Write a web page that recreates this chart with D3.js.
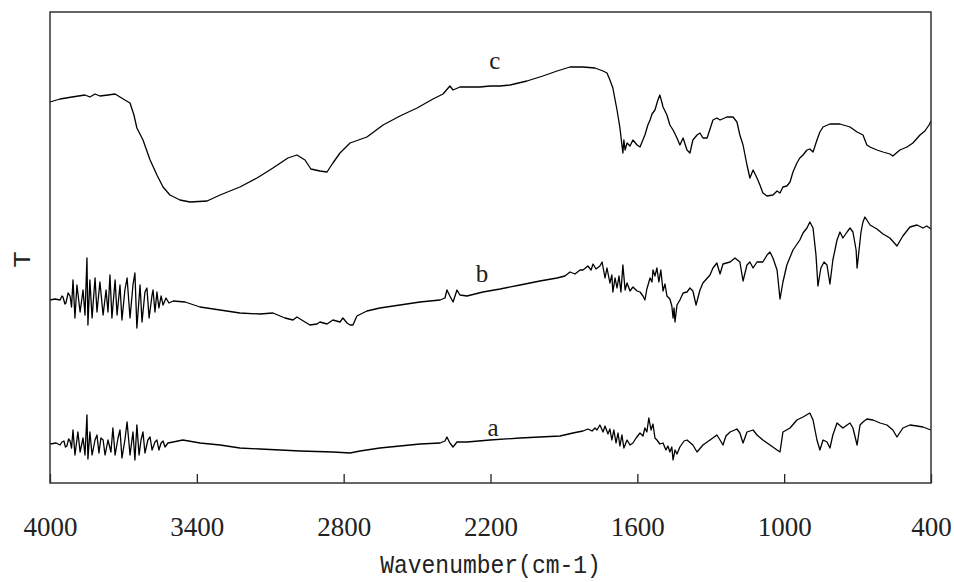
<!DOCTYPE html>
<html>
<head>
<meta charset="utf-8">
<script src="https://cdn.jsdelivr.net/npm/d3@7"></script>
<style>
  body { margin: 0; background: #fff; }
</style>
</head>
<body>
<div id="chart"></div>
<script>
// x ticks (wavenumber, cm-1)
const tickValues = [4000, 3400, 2800, 2200, 1600, 1000, 400];

// spectra: [wavenumber, T (arbitrary units)]
const seriesC = [
  [4000,381],[3959,384],[3910,386],[3857,388],[3837,386],[3816,389],[3796,387],[3763,388],
  [3734,389],[3714,386],[3694,383],[3673,380],[3657,368],[3645,355],[3620,343],[3591,323],
  [3563,308],[3538,296],[3510,288],[3469,283],[3428,281],[3358,282],[3305,288],[3224,296],
  [3154,305],[3089,315],[3028,325],[2991,328],[2958,323],[2934,314],[2897,312],[2868,311],
  [2844,320],[2815,330],[2774,340],[2705,346],[2639,358],[2570,367],[2500,375],[2435,384],
  [2394,389],[2366,397],[2353,393],[2325,396],[2243,396],[2202,397],[2161,397],[2120,398],
  [2051,402],[1986,407],[1928,412],[1875,416],[1822,416],[1773,415],[1740,412],[1724,410],
  [1712,403],[1700,395],[1683,373],[1671,355],[1663,338],[1659,330],[1655,343],[1650,333],
  [1642,340],[1630,337],[1618,343],[1601,338],[1589,336],[1569,348],[1557,358],[1548,363],
  [1540,369],[1528,373],[1516,383],[1508,388],[1499,380],[1495,376],[1479,368],[1467,358],
  [1454,353],[1438,345],[1426,338],[1413,345],[1397,333],[1385,330],[1373,343],[1356,348],
  [1344,350],[1332,345],[1315,345],[1291,363],[1275,365],[1262,363],[1234,366],[1209,366],
  [1193,361],[1181,348],[1168,338],[1152,318],[1140,305],[1127,313],[1111,305],[1099,298],
  [1087,290],[1070,287],[1046,288],[1029,292],[1017,290],[1005,296],[989,297],[976,301],
  [964,311],[948,320],[936,325],[923,328],[907,333],[895,334],[882,331],[866,343],
  [854,351],[841,356],[813,359],[772,359],[731,356],[702,351],[678,348],[662,338],
  [649,336],[621,333],[596,331],[568,329],[556,327],[527,333],[498,336],[474,340],
  [445,348],[425,352],[408,358],[400,362]
];

const seriesB = [
  [4000,183],[3980,184],[3959,183],[3951,187],[3947,186],[3939,179],[3935,180],[3926,190],
  [3918,187],[3912,176],[3906,203],[3898,165],[3890,198],[3877,171],[3865,193],[3857,168],
  [3849,225],[3845,158],[3837,203],[3828,165],[3816,205],[3808,171],[3796,201],[3783,168],
  [3771,193],[3763,171],[3755,208],[3747,165],[3734,203],[3726,168],[3714,198],[3706,163],
  [3694,193],[3685,205],[3673,165],[3661,198],[3653,210],[3645,155],[3632,198],[3624,161],
  [3612,191],[3604,195],[3595,165],[3583,188],[3579,193],[3571,171],[3563,191],[3555,175],
  [3546,187],[3538,178],[3526,185],[3514,180],[3497,182],[3448,181],[3387,176],[3305,173],
  [3224,170],[3142,169],[3089,170],[3040,165],[3007,163],[2991,166],[2958,161],[2938,158],
  [2909,159],[2897,161],[2868,159],[2844,163],[2815,161],[2803,165],[2786,160],[2774,158],
  [2762,158],[2746,167],[2705,172],[2652,175],[2570,178],[2488,181],[2406,183],[2386,185],
  [2378,193],[2366,187],[2353,181],[2337,193],[2325,188],[2296,187],[2231,191],[2161,194],
  [2079,198],[1998,202],[1928,205],[1896,207],[1875,211],[1855,209],[1834,213],[1822,213],
  [1802,217],[1789,213],[1781,219],[1769,214],[1753,217],[1744,221],[1732,205],[1724,215],
  [1712,200],[1704,208],[1700,191],[1691,205],[1683,195],[1675,207],[1667,191],[1659,218],
  [1650,193],[1642,200],[1630,192],[1618,196],[1601,192],[1589,191],[1577,187],[1569,183],
  [1561,194],[1548,205],[1540,201],[1536,213],[1528,207],[1520,215],[1512,201],[1504,213],
  [1495,192],[1487,199],[1479,187],[1467,184],[1459,177],[1454,165],[1450,175],[1446,161],
  [1438,178],[1426,183],[1413,190],[1397,191],[1385,195],[1373,192],[1360,178],[1344,193],
  [1332,200],[1303,208],[1291,215],[1275,220],[1262,209],[1250,219],[1221,221],[1201,225],
  [1181,221],[1168,202],[1152,218],[1140,221],[1127,215],[1111,221],[1087,221],[1070,228],
  [1058,231],[1046,225],[1029,213],[1017,184],[1005,201],[989,218],[964,233],[936,243],
  [923,250],[907,255],[895,261],[882,255],[870,228],[862,197],[850,215],[837,221],
  [825,218],[813,199],[801,223],[784,243],[772,251],[760,245],[743,251],[731,255],
  [719,251],[706,233],[702,215],[694,233],[686,251],[678,261],[670,266],[649,258],
  [621,254],[596,249],[568,245],[539,237],[515,247],[486,256],[457,258],[433,255],
  [417,257],[400,254]
];

const seriesA = [
  [4000,39],[3975,40],[3959,38],[3951,41],[3943,42],[3937,36],[3931,37],[3924,44],
  [3918,42],[3912,35],[3906,53],[3898,28],[3886,51],[3877,31],[3865,45],[3857,28],
  [3849,68],[3845,24],[3837,51],[3828,28],[3816,43],[3808,48],[3800,30],[3792,45],
  [3783,43],[3775,28],[3763,43],[3751,31],[3743,55],[3734,28],[3722,45],[3714,53],
  [3706,25],[3694,43],[3685,61],[3673,28],[3661,51],[3653,23],[3645,58],[3636,28],
  [3628,43],[3620,51],[3612,30],[3600,43],[3591,46],[3583,33],[3571,41],[3563,43],
  [3555,33],[3546,40],[3538,42],[3530,36],[3518,40],[3497,41],[3457,43],[3387,40],
  [3305,38],[3224,35],[3142,34],[3060,33],[2978,32],[2844,31],[2774,30],[2733,32],
  [2652,35],[2570,37],[2488,39],[2406,40],[2386,42],[2378,46],[2366,40],[2353,36],
  [2337,41],[2296,41],[2202,43],[2079,45],[1998,46],[1916,47],[1863,50],[1843,51],
  [1822,52],[1802,54],[1785,52],[1773,55],[1765,53],[1753,58],[1740,51],[1732,57],
  [1720,49],[1712,54],[1704,43],[1696,53],[1687,40],[1679,50],[1671,37],[1663,48],
  [1655,35],[1642,43],[1630,38],[1618,40],[1605,45],[1589,50],[1577,47],[1569,55],
  [1561,51],[1553,65],[1544,53],[1536,59],[1528,45],[1520,43],[1508,39],[1495,40],
  [1483,33],[1475,37],[1467,31],[1459,36],[1454,23],[1446,33],[1438,29],[1426,36],
  [1409,42],[1397,43],[1373,38],[1356,31],[1332,38],[1303,43],[1275,48],[1262,43],
  [1250,38],[1238,47],[1221,51],[1193,54],[1181,50],[1168,40],[1152,51],[1127,53],
  [1111,48],[1087,43],[1058,38],[1029,33],[1017,31],[1005,51],[976,55],[948,63],
  [923,66],[895,70],[882,63],[866,43],[854,33],[841,43],[825,41],[813,35],
  [801,48],[784,60],[760,55],[743,58],[731,60],[719,55],[702,38],[690,58],
  [678,61],[662,64],[637,63],[608,60],[580,58],[556,53],[539,46],[515,55],
  [486,58],[457,57],[433,56],[400,53]
];

const seriesNames = ["a", "b", "c"];
// label anchors in data units [wavenumber, T]
const labelAnchors = [[2190, 47], [2235, 201], [2182, 414]];

const W = 954, H = 582;
const margin = {top: 12, right: 23, bottom: 99, left: 50};
const iw = W - margin.left - margin.right;
const ih = H - margin.top - margin.bottom;

const svg = d3.select("#chart").append("svg")
    .attr("width", W).attr("height", H);

const g = svg.append("g")
    .attr("transform", "translate(" + margin.left + "," + margin.top + ")");

const x = d3.scaleLinear().domain([4000, 400]).range([0, iw]);
const y = d3.scaleLinear().domain([0, ih]).range([ih, 0]);

const line = d3.line()
    .x(function(d) { return x(d[0]); })
    .y(function(d) { return y(d[1]); });

[seriesA, seriesB, seriesC].forEach(function(s) {
  g.append("path")
    .datum(s)
    .attr("fill", "none")
    .attr("stroke", "#000")
    .attr("stroke-width", 1.3)
    .attr("stroke-linejoin", "round")
    .attr("d", line);
});

// series labels
g.selectAll("text.lbl")
  .data(seriesNames).enter()
  .append("text")
  .attr("class", "lbl")
  .text(function(d) { return d; })
  .attr("x", function(d, i) { return x(labelAnchors[i][0]); })
  .attr("y", function(d, i) { return y(labelAnchors[i][1]); })
  .attr("text-anchor", "middle")
  .attr("font-family", "'Liberation Serif', serif")
  .attr("font-size", 25)
  .attr("fill", "#222");

// bottom axis, ticks pointing in
const xAxis = d3.axisBottom(x)
    .tickValues(tickValues)
    .tickFormat(d3.format("d"))
    .tickSizeInner(-9)
    .tickSizeOuter(0)
    .tickPadding(34);

const ax = g.append("g")
    .attr("transform", "translate(0," + ih + ")")
    .call(xAxis);
ax.select(".domain").remove();
ax.selectAll(".tick line").attr("stroke", "#222").attr("stroke-width", 1.3);
ax.selectAll(".tick text")
    .attr("font-family", "'Liberation Serif', serif")
    .attr("font-size", 27)
    .attr("fill", "#222");

// frame
g.append("rect")
  .attr("x", 0).attr("y", 0)
  .attr("width", iw).attr("height", ih)
  .attr("fill", "none")
  .attr("stroke", "#333")
  .attr("stroke-width", 1.5);

// axis titles
svg.append("text")
  .text("Wavenumber(cm-1)")
  .attr("transform", "translate(" + (margin.left + iw / 2) + ",573) scale(1,1.15)")
  .attr("text-anchor", "middle")
  .attr("font-family", "'Liberation Mono', monospace")
  .attr("font-size", 23)
  .attr("fill", "#222");

svg.append("text")
  .text("T")
  .attr("transform", "translate(30," + (margin.top + ih / 2 + 12) + ") rotate(-90) scale(1.2,1)")
  .attr("text-anchor", "middle")
  .attr("font-family", "'Liberation Mono', monospace")
  .attr("font-size", 23)
  .attr("fill", "#222");
</script>
</body>
</html>
